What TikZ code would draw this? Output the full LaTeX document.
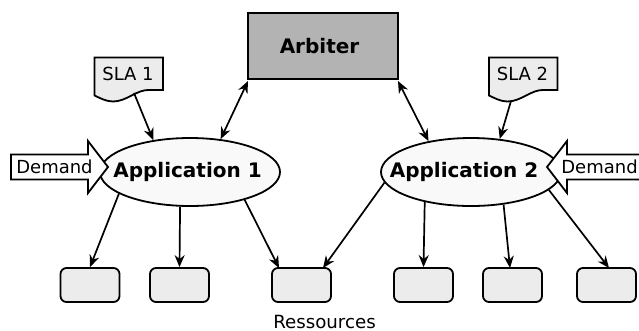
\documentclass[tikz,border=0pt]{standalone}
\usepackage{fontspec}
\setmainfont{DejaVu Sans}
\usetikzlibrary{arrows.meta,shapes.geometric}
\definecolor{docgray}{HTML}{ECECEC}
\definecolor{boxgray}{HTML}{B3B3B3}
\definecolor{ellfill}{HTML}{F9F9F9}
\tikzset{
  x=1pt,y=-1pt,
  outline/.style={draw=black,line width=1.8pt,line join=miter},
  conn/.style={line width=1.7pt,-{Stealth[length=12pt,width=10pt]}},
  biconn/.style={line width=1.7pt,{Stealth[length=12pt,width=10pt]}-{Stealth[length=12pt,width=10pt]}},
  app/.style={ellipse,outline,fill=ellfill,minimum width=180pt,minimum height=68pt,inner sep=0pt,font=\fontsize{20}{24}\selectfont\bfseries},
  res/.style={rectangle,rounded corners=6pt,outline,fill=docgray,minimum width=59pt,minimum height=34pt,inner sep=0pt},
  lab/.style={inner sep=0pt,font=\fontsize{18}{22}\selectfont},
  slabox/.style={rectangle,minimum width=68pt,minimum height=33pt,inner sep=0pt,font=\fontsize{18}{22}\selectfont},
}
\begin{document}
\begin{tikzpicture}
\useasboundingbox (0,0) rectangle (639,330);
% Arbiter
\node[rectangle,outline,fill=boxgray,minimum width=150pt,minimum height=66pt,inner sep=0pt,font=\fontsize{20}{24}\selectfont\bfseries] (arb) at (323,46) {\makebox[0pt]{Arbiter\hspace{7pt}}};
% SLA documents
\draw[outline,fill=docgray] (94.5,57.5) -- (163,57.5) -- (163,90) -- (150,90) .. controls (137,89) and (127,101.5) .. (113,101.5) .. controls (106,101.5) and (100,98) .. (94.5,95.5) -- cycle;
\node[slabox] (sla1) at (128,74) {SLA 1};
\draw[outline,fill=docgray] (489,57.5) -- (557.5,57.5) -- (557.5,90) -- (544.5,90) .. controls (531.5,89) and (521.5,101.5) .. (507.5,101.5) .. controls (500.5,101.5) and (494.5,98) .. (489,95.5) -- cycle;
\node[slabox] (sla2) at (522.5,74) {SLA 2};
% Applications
\node[app] (app1) at (190,172) {\makebox[0pt]{Application 1\hspace{5pt}}};
\node[app] (app2) at (471,172) {\makebox[0pt]{Application 2\hspace{14pt}}};
% Demand arrows
\draw[outline,fill=white] (11,154.5) -- (88,154.5) -- (88,141) -- (108,167) -- (88,193) -- (88,179.5) -- (11,179.5) -- cycle;
\node[lab] (dem1) at (54.5,167) {Demand};
\draw[outline,fill=white] (641,154.5) -- (567,154.5) -- (567,141) -- (547,167) -- (567,193) -- (567,179.5) -- (641,179.5) -- cycle;
\node[lab] (dem2) at (599.5,167) {Demand};
% Resources
\node[res] (r1) at (90,285) {};
\node[res] (r2) at (179.5,285) {};
\node[res] (r3) at (301.5,285) {};
\node[res] (r4) at (423.5,285) {};
\node[res] (r5) at (512.5,285) {};
\node[res] (r6) at (606.5,285) {};
\node[lab,font=\fontsize{18.2}{22}\selectfont] (ress) at (324.5,321.5) {Ressources};
% named free ends
\coordinate (s1out) at (134,93);
\coordinate (s2out) at (511,101);
\coordinate (arbL) at (248,81);
\coordinate (arbR) at (398,81);
\coordinate (r3l) at (279,268);
\coordinate (r3r) at (323,268);
\coordinate (r5t) at (510,268);
\coordinate (r6t) at (609,268);
% Connectors
\draw[conn] (s1out) -- (app1.139);
\draw[conn] (s2out) -- (app2.49);
\draw[biconn] (arbL) -- (app1.47);
\draw[biconn] (arbR) -- (app2.144.5);
\draw[conn] (app1.197.5) -- (r1.north);
\draw[conn] (app1.254) -- (r2.north);
\draw[conn] (app1.333) -- (r3l);
\draw[conn] (app2.187.5) -- (r3r);
\draw[conn] (app2.213) -- (r4.north);
\draw[conn] (app2.315) -- (r5t);
\draw[conn] (app2.347) -- (r6t);
\end{tikzpicture}
\end{document}
